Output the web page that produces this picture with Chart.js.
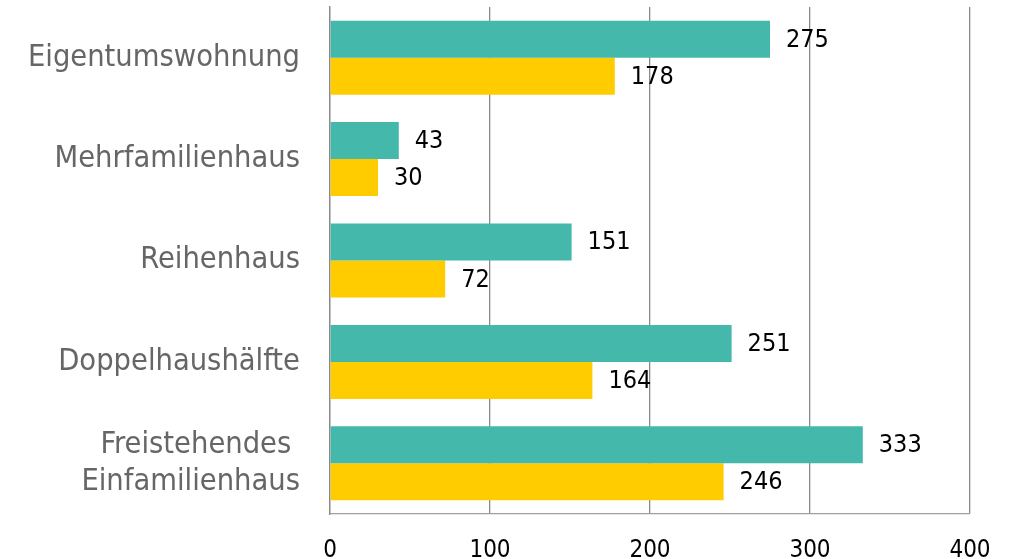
<!DOCTYPE html>
<html><head><meta charset="utf-8">
<script src="https://cdn.jsdelivr.net/npm/chart.js@4/dist/chart.umd.min.js"></script>
<style>html,body{margin:0;padding:0;background:#fff;}#wrap{width:1020px;height:559px;}</style>
</head><body><div id="wrap"><canvas id="c" width="1020" height="559"></canvas></div>
<script>
const categories = ["Eigentumswohnung", "Mehrfamilienhaus", "Reihenhaus", "Doppelhaushälfte", ["Freistehendes ", "Einfamilienhaus"]];
const seriesA = [275, 43, 151, 251, 333];
const seriesB = [178, 30, 72, 164, 246];
const xTicks = [0, 100, 200, 300, 400];

const labelPlugin = {
  id: 'vlabels',
  afterDatasetsDraw(chart) {
    const ctx = chart.ctx;
    ctx.save();
    ctx.font = '25px "DejaVu Sans Condensed"';
    ctx.fillStyle = '#000';
    ctx.textBaseline = 'middle';
    ctx.textAlign = 'left';
    chart.data.datasets.forEach((ds, i) => {
      chart.getDatasetMeta(i).data.forEach((bar, j) => {
        ctx.fillText(String(ds.data[j]), bar.x + 16, bar.y + 1);
      });
    });
    ctx.restore();
  }
};

new Chart(document.getElementById('c'), {
  type: 'bar',
  data: {
    labels: categories,
    datasets: [
      { data: seriesA, backgroundColor: '#45B8AC', categoryPercentage: 0.73, barPercentage: 1.0 },
      { data: seriesB, backgroundColor: '#FFCC00', categoryPercentage: 0.73, barPercentage: 1.0 }
    ]
  },
  options: {
    indexAxis: 'y',
    responsive: false,
    animation: false,
    layout: { padding: { top: 7, right: 50, left: 0, bottom: 0 } },
    plugins: { legend: { display: false }, tooltip: { enabled: false } },
    scales: {
      x: {
        min: 0, max: 400,
        afterBuildTicks(s) { s.ticks = xTicks.map(v => ({ value: v })); },
        afterFit(s) { s.height = 45; s.paddingLeft = 0; s.paddingRight = 0; },
        grid: { color: '#8a8a8a', lineWidth: 1.3, drawTicks: false },
        border: { color: '#a0a0a0', width: 1.3 },
        ticks: { color: '#000', padding: 22, font: { family: 'DejaVu Sans Condensed', size: 24 } }
      },
      y: {
        afterFit(s) { s.width = 330; s.paddingTop = 0; s.paddingBottom = 0; },
        grid: { display: false, drawTicks: false },
        border: { display: true, color: '#8a8a8a', width: 1.3 },
        ticks: { color: '#666', padding: 30, font: { family: 'DejaVu Sans Condensed', size: 30.5, lineHeight: 1.22 } }
      }
    }
  },
  plugins: [labelPlugin]
});
</script></body></html>
